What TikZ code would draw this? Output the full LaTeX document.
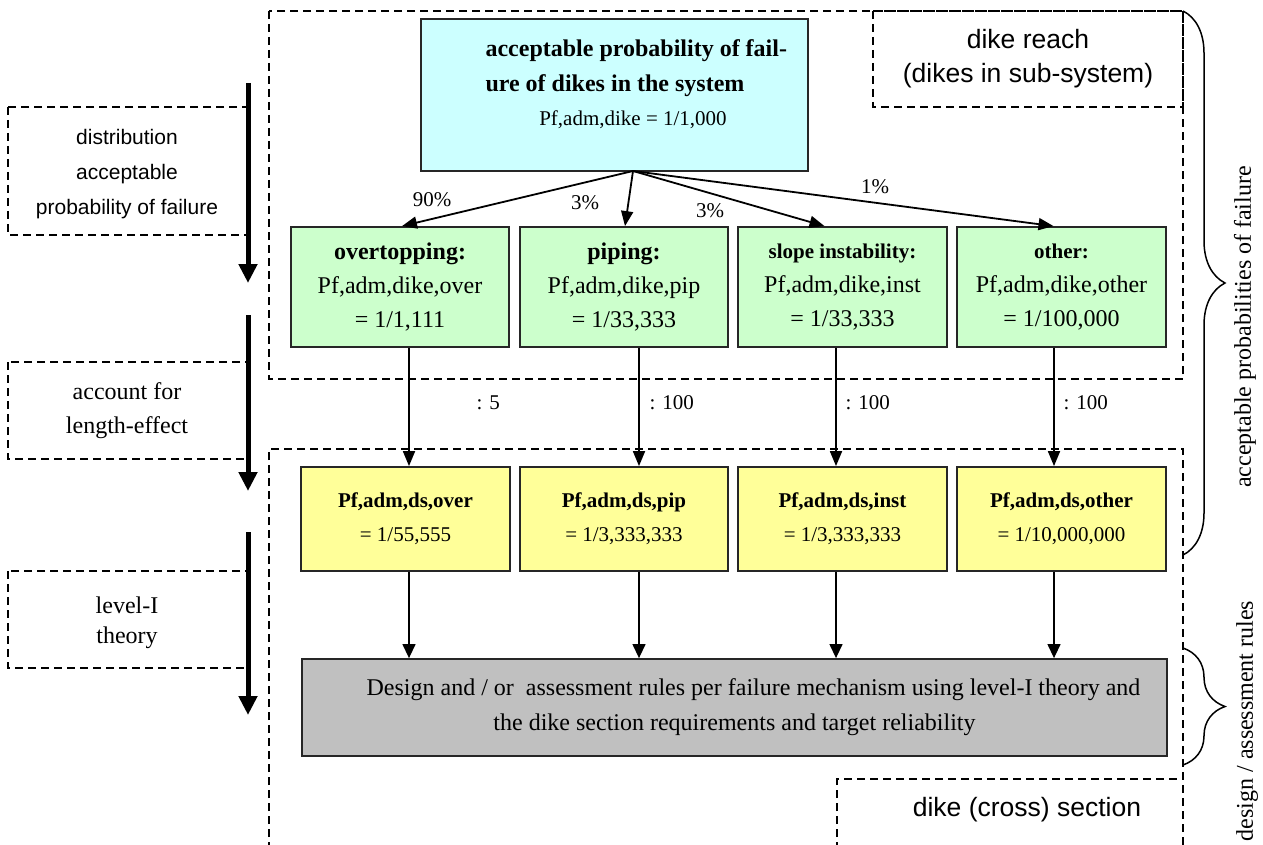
\documentclass[tikz,border=0pt]{standalone}
\usepackage{fontspec}
\setmainfont{Liberation Serif}
\setsansfont{Liberation Sans}
\usetikzlibrary{arrows.meta,decorations.pathreplacing}

\definecolor{syscyan}{HTML}{CCFFFF}
\definecolor{mechgreen}{HTML}{CCFFCC}
\definecolor{dsyellow}{HTML}{FFFF99}
\definecolor{rulegray}{HTML}{C0C0C0}

\tikzset{
  dashbox/.style={draw, line width=1.5pt, dash pattern=on 8pt off 5pt},
  solidbox/.style={draw=black!85, line width=1.8pt, inner sep=0pt, align=center},
  mech/.style={solidbox, fill=mechgreen, minimum height=120pt, font=\fontsize{24}{34}\selectfont},
  dsbox/.style={solidbox, fill=dsyellow, minimum height=104pt, minimum width=209pt, font=\fontsize{21}{34}\selectfont},
  flow/.style={-{Triangle[length=15pt,width=12pt]}, line width=1.8pt},
  thinflow/.style={-{Triangle[length=14pt,width=13pt]}, line width=1.3pt},
  bigflow/.style={-{Triangle[length=19pt,width=18pt]}, line width=5pt},
  pct/.style={font=\fontsize{21}{21}\selectfont},
  brc/.style={decorate, decoration={brace, amplitude=42pt}, line width=1.5pt}
}

\begin{document}
\begin{tikzpicture}[x=1pt, y=-1pt]
\useasboundingbox (0,0) rectangle (1263,845);

% dashed frames
\draw[dashbox] (269,11) rectangle (1183,379);
\draw[dashbox] (873,11) rectangle (1183,107);
\draw[dashbox] (269,850) |- (1183,449) -- (1183,850);
\draw[dashbox] (837,850) |- (1183,779);
\node[font=\sffamily\fontsize{26.5}{34}\selectfont, align=center] (reach) at (1028,59) {dike reach\\(dikes in sub-system)};
\node[font=\sffamily\fontsize{26.5}{34}\selectfont] (section) at (1027,810) {dike (cross) section};

% left steps
\draw[dashbox] (8,107) rectangle (248,235);
\draw[dashbox] (8,362) rectangle (248,459);
\draw[dashbox] (8,571) rectangle (248,668);
\node[font=\sffamily\fontsize{21}{35}\selectfont, align=center] (distr) at (127,174) {distribution\\acceptable\\probability of failure};
\node[font=\fontsize{24}{34}\selectfont, align=center] (length) at (127,411) {account for\\length-effect};
\node[font=\fontsize{24}{30}\selectfont, align=center] (level) at (127,623) {level-I\\theory};
\draw[bigflow] (248,83) -- (248,283);
\draw[bigflow] (248,315) -- (248,491);
\draw[bigflow] (248,532) -- (248,715);

% system
\node[solidbox, fill=syscyan, minimum width=387pt, minimum height=152pt] (sys) at (614.5,95) {};
\node[anchor=west, align=left, font=\bfseries\fontsize{24}{35}\selectfont] (systitle) at (482,68.5) {acceptable probability of fail-\\ure of dikes in the system};
\node[font=\fontsize{21}{21}\selectfont] (sysval) at (633,120) {Pf,adm,dike = 1/1,000};
\coordinate (split) at (633,171);

% mechanisms
\node[mech, minimum width=218pt] (over) at (400,287) {\textbf{overtopping:}\\Pf,adm,dike,over\\= 1/1,111};
\node[mech, minimum width=208pt] (pip) at (624,287) {\textbf{piping:}\\Pf,adm,dike,pip\\= 1/33,333};
\node[mech, minimum width=209pt] (inst) at (842.5,287) {{\bfseries\fontsize{21}{34}\selectfont slope instability:}\\Pf,adm,dike,inst\\= 1/33,333};
\node[mech, minimum width=209pt] (oth) at (1061.5,287) {{\bfseries\fontsize{21}{34}\selectfont other:}\\Pf,adm,dike,other\\= 1/100,000};

\draw[flow] (split) -- ([xshift=2pt]over.north);
\draw[flow] (split) -- ([xshift=1pt]pip.north);
\draw[flow] (split) -- ([xshift=-18pt]inst.north);
\draw[flow] (split) -- ([xshift=-8pt]oth.north);
\node[pct] at (432,200) {90\%};
\node[pct] at (585,203) {3\%};
\node[pct] at (710,211) {3\%};
\node[pct] at (875,187) {1\%};

% dike section
\node[dsbox] (dsover) at (405.5,519) {\textbf{Pf,adm,ds,over}\\= 1/55,555};
\node[dsbox, minimum width=208pt] (dspip) at (624,519) {\textbf{Pf,adm,ds,pip}\\= 1/3,333,333};
\node[dsbox] (dsinst) at (842.5,519) {\textbf{Pf,adm,ds,inst}\\= 1/3,333,333};
\node[dsbox] (dsoth) at (1061.5,519) {\textbf{Pf,adm,ds,other}\\= 1/10,000,000};

\node[solidbox, fill=rulegray, minimum width=865pt, minimum height=97pt, font=\fontsize{24}{35}\selectfont] (rules) at (734.5,707.5)
  {\hspace*{38pt}Design and / or\ \ assessment rules per failure mechanism using level-I theory and\\the dike section requirements and target reliability};

\coordinate (x1) at (409,0);
\coordinate (x2) at (639,0);
\coordinate (x3) at (836,0);
\coordinate (x4) at (1054,0);
\draw[flow] (x1 |- over.south) -- (x1 |- dsover.north);
\draw[flow] (x2 |- pip.south) -- (x2 |- dspip.north);
\draw[flow] (x3 |- inst.south) -- (x3 |- dsinst.north);
\draw[flow] (x4 |- oth.south) -- (x4 |- dsoth.north);
\node[pct, anchor=west] at (473,403) {: 5};
\node[pct, anchor=west] at (646,403) {: 100};
\node[pct, anchor=west] at (842,403) {: 100};
\node[pct, anchor=west] at (1060,403) {: 100};

\draw[thinflow] (x1 |- dsover.south) -- (x1 |- rules.north);
\draw[thinflow] (x2 |- dspip.south) -- (x2 |- rules.north);
\draw[thinflow] (x3 |- dsinst.south) -- (x3 |- rules.north);
\draw[thinflow] (x4 |- dsoth.south) -- (x4 |- rules.north);

% braces
\draw[brc] (1183,11) -- (1183,555);
\draw[brc] (1183,648) -- (1183,765);
\node[rotate=90, font=\fontsize{24}{24}\selectfont] (probs) at (1245,327) {acceptable probabilities of failure};
\node[rotate=90, font=\fontsize{24}{24}\selectfont] (design) at (1247,721) {design / assessment rules};
\end{tikzpicture}
\end{document}
